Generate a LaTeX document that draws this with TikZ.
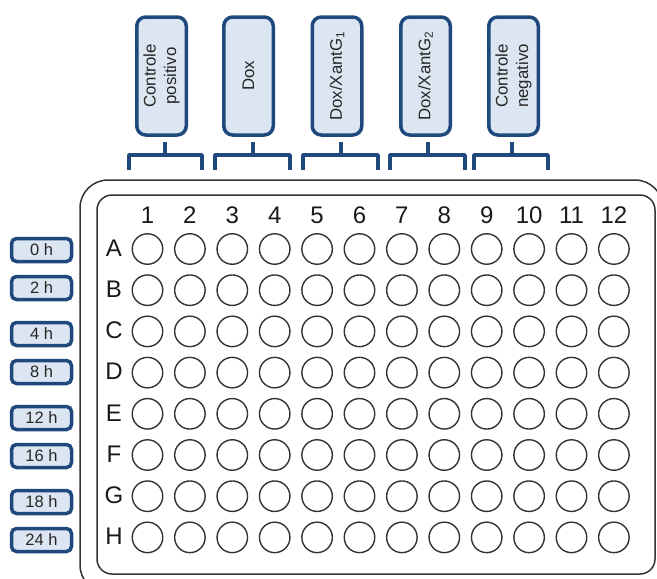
\documentclass[tikz,border=0pt]{standalone}
\usepackage{fontspec}
\setmainfont{Liberation Sans}
\definecolor{boxblue}{RGB}{31,73,125}
\definecolor{boxfill}{RGB}{220,230,242}
\definecolor{plategray}{RGB}{51,51,51}
\begin{document}
\begin{tikzpicture}[x=1pt,y=-1pt,
  tbox/.style={draw=boxblue, fill=boxfill, line width=3.5pt, rounded corners=5pt, minimum width=60pt, minimum height=23pt, inner sep=0pt, font=\fontsize{16.5}{18}\selectfont, text=black!85},
  gbox/.style={draw=boxblue, fill=boxfill, line width=3.5pt, rounded corners=9pt, minimum width=118pt, minimum height=49.5pt, inner sep=0pt, rotate=90, align=center, font=\fontsize{16.8}{20.5}\selectfont, text=black!85},
  bracket/.style={draw=boxblue, line width=3.5pt, line join=round},
  plate/.style={draw=plategray, line width=1.5pt},
  well/.style={circle, draw=plategray, line width=1.4pt, minimum size=30.5pt, inner sep=0pt},
  lab/.style={font=\fontsize{24}{24}\selectfont, text=black!90, inner sep=0pt}]
\clip (0,0) rectangle (657,579);
% plate
\draw[plate, rounded corners=28pt] (80,180) rectangle (663,593);
\draw[plate, rounded corners=15pt] (97,195) rectangle (655,574);
% column labels and wells
\foreach \c in {1,...,12}{
  \node[lab] (c\c) at ({147.5+42.4*(\c-1)},215) {\c};
}
\foreach \r [count=\i] in {A,B,C,D,E,F,G,H}{
  \node[lab] (r\r) at (114,{248+41.2*(\i-1)}) {\r};
  \foreach \c in {1,...,12}{
    \node[well] (w\r\c) at ({147.5+42.4*(\c-1)},{249+41.2*(\i-1)}) {};
  }
}
% time boxes
\foreach \t/\y [count=\i] in {0 h/250, 2 h/288, 4 h/334, 8 h/372, 12 h/418, 16 h/456, 18 h/502, 24 h/540}{
  \node[tbox] (t\i) at (41.5,\y) {\t};
}
% group boxes
\node[gbox] (g1) at (161.5,76) {Controle\\positivo};
\node[gbox] (g2) at (248.5,76) {Dox};
\node[gbox] (g3) at (337,76) {Dox/XantG\textsubscript{1}};
\node[gbox] (g4) at (425.5,76) {Dox/XantG\textsubscript{2}};
\node[gbox] (g5) at (513.5,76) {Controle\\negativo};
% brackets
\foreach \k/\l/\s/\rr in {1/129/165/202, 2/215/253/290, 3/303/341/378, 4/390/428/465, 5/474/512/548}{
  \coordinate (s\k) at (\s,142);
  \coordinate (m\k) at (\s,155);
  \coordinate (bl\k) at (\l,170);
  \coordinate (br\k) at (\rr,170);
  \draw[bracket] (s\k) -- (m\k);
  \draw[bracket] (bl\k) |- (m\k) -| (br\k);
}
\end{tikzpicture}
\end{document}
